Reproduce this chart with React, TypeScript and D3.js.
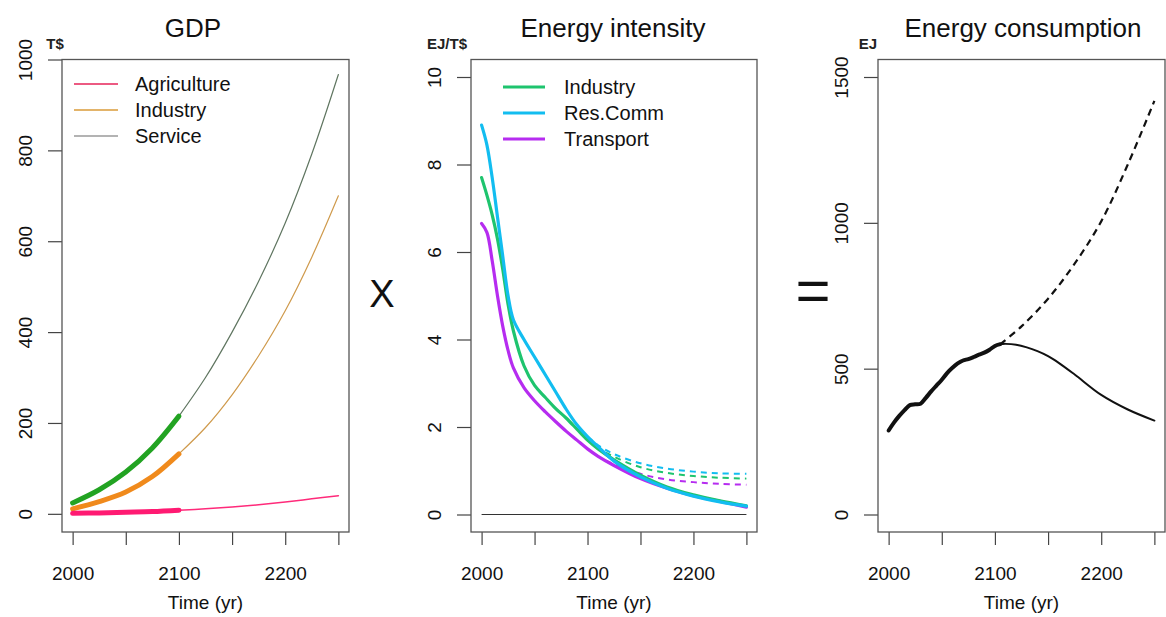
import React, { useEffect, useRef } from 'react'
import * as d3 from 'd3'

// GDP (T$)
const gdpYears = [2000, 2025, 2050, 2075, 2100, 2125, 2150, 2175, 2200, 2225, 2250]
const gdpAgriculture = [1, 2, 3.5, 5, 8, 11, 15, 20, 26, 33, 40]
const gdpIndustry = [11, 27, 48, 82, 132, 190, 262, 348, 447, 565, 700]
const gdpService = [24, 53, 92, 145, 215, 300, 400, 512, 640, 792, 967]

// Energy intensity (EJ/T$)
const eiYears = [2000, 2005, 2010, 2015, 2020, 2025, 2030, 2040, 2050, 2060, 2070, 2080, 2090, 2100, 2110, 2125, 2150, 2175, 2200, 2225, 2250]
const eiIndustry = [7.7, 7.3, 6.85, 6.3, 5.6, 4.8, 4.2, 3.4, 2.95, 2.68, 2.42, 2.2, 1.95, 1.7, 1.5, 1.25, 0.9, 0.63, 0.45, 0.31, 0.2]
const eiResComm = [8.9, 8.45, 7.7, 6.8, 5.9, 5.0, 4.45, 4.0, 3.6, 3.2, 2.8, 2.4, 2.05, 1.78, 1.55, 1.22, 0.86, 0.6, 0.42, 0.29, 0.19]
const eiTransport = [6.65, 6.45, 5.8, 5.0, 4.3, 3.75, 3.35, 2.9, 2.6, 2.35, 2.12, 1.9, 1.7, 1.5, 1.33, 1.12, 0.82, 0.6, 0.43, 0.3, 0.17]
const eiAltYears = [2100, 2110, 2125, 2150, 2175, 2200, 2225, 2250]
const eiIndustryAlt = [1.7, 1.52, 1.32, 1.08, 0.95, 0.88, 0.84, 0.82]
const eiResCommAlt = [1.78, 1.58, 1.38, 1.17, 1.05, 0.98, 0.94, 0.93]
const eiTransportAlt = [1.5, 1.33, 1.15, 0.93, 0.8, 0.74, 0.7, 0.68]

// Energy consumption (EJ)
const ecYears = [2000, 2005, 2010, 2015, 2020, 2025, 2030, 2035, 2040, 2045, 2050, 2055, 2060, 2065, 2070, 2075, 2080, 2085, 2090, 2095, 2100, 2105]
const ecHist = [288, 315, 338, 358, 375, 378, 380, 400, 422, 442, 462, 485, 503, 518, 528, 533, 540, 548, 555, 565, 578, 584]
const ecLowYears = [2105, 2110, 2120, 2130, 2140, 2150, 2160, 2175, 2200, 2225, 2250]
const ecLow = [584, 585, 582, 573, 560, 543, 520, 480, 410, 360, 322]
const ecHighYears = [2105, 2125, 2150, 2175, 2200, 2225, 2250]
const ecHigh = [584, 645, 740, 860, 1005, 1200, 1418]

const xTicks = [2000, 2050, 2100, 2150, 2200, 2250]
const FONT = 'Liberation Sans, Arial, Helvetica, sans-serif'

type Pt = [number, number]
const zip = (xs: number[], ys: number[]): Pt[] => xs.map((v, i) => [v, ys[i]])

export default function App(): React.ReactElement {
  const ref = useRef<SVGSVGElement>(null)

  useEffect(() => {
    const svg = d3.select(ref.current)
    svg.selectAll('*').remove()
    svg.style('font-family', FONT)

    const top = 59.5
    const bottom = 532

    const panel = (
      left: number,
      right: number,
      yDomain: [number, number],
      yTicks: number[],
      title: string,
      titleX: number,
      unit: string,
      unitX: number
    ) => {
      const x = d3.scaleLinear().domain([1990, 2260]).range([left, right])
      const y = d3.scaleLinear().domain(yDomain).range([bottom, top])
      const g = svg.append('g')

      g.append('g')
        .attr('transform', `translate(0,${bottom})`)
        .call(
          d3.axisBottom(x)
            .tickValues(xTicks)
            .tickSize(13)
            .tickPadding(22)
            .tickFormat((d) => (+d % 100 === 0 ? String(d) : ''))
        )
        .call((a) => a.select('.domain').remove())
        .call((a) => a.selectAll('line').attr('stroke', '#444').attr('stroke-width', 1.2))
        .call((a) =>
          a.selectAll('text').attr('font-size', 19).attr('font-family', FONT).attr('fill', '#111')
        )

      g.append('g')
        .attr('transform', `translate(${left},0)`)
        .call(d3.axisLeft(y).tickValues(yTicks).tickSize(14).tickFormat(d3.format('d')))
        .call((a) => a.select('.domain').remove())
        .call((a) => a.selectAll('line').attr('stroke', '#444').attr('stroke-width', 1.2))
        .call((a) =>
          a
            .selectAll('text')
            .attr('x', null)
            .attr('dy', null)
            .attr('text-anchor', 'middle')
            .attr('transform', 'translate(-30,0) rotate(-90)')
            .attr('font-size', 19)
            .attr('font-family', FONT)
            .attr('fill', '#111')
        )

      g.append('rect')
        .attr('x', left)
        .attr('y', top)
        .attr('width', right - left)
        .attr('height', bottom - top)
        .attr('fill', 'none')
        .attr('stroke', '#555')
        .attr('stroke-width', 1.3)

      g.append('text')
        .attr('x', titleX)
        .attr('y', 37)
        .attr('text-anchor', 'middle')
        .attr('font-size', 26)
        .attr('fill', '#111')
        .text(title)

      g.append('text')
        .attr('x', unitX)
        .attr('y', 49)
        .attr('text-anchor', 'middle')
        .attr('font-size', 15)
        .attr('font-weight', 'bold')
        .attr('fill', '#222')
        .text(unit)

      g.append('text')
        .attr('x', (left + right) / 2)
        .attr('y', 609)
        .attr('text-anchor', 'middle')
        .attr('font-size', 19)
        .attr('fill', '#111')
        .text('Time (yr)')

      return { x, y, g }
    }

    const drawLine = (
      g: d3.Selection<SVGGElement, unknown, null, undefined>,
      x: d3.ScaleLinear<number, number>,
      y: d3.ScaleLinear<number, number>,
      pts: Pt[],
      color: string,
      width: number,
      dash?: string
    ) => {
      const line = d3
        .line<Pt>()
        .x((d) => x(d[0]))
        .y((d) => y(d[1]))
        .curve(d3.curveCatmullRom.alpha(0.5))
      g.append('path')
        .datum(pts)
        .attr('d', line)
        .attr('fill', 'none')
        .attr('stroke', color)
        .attr('stroke-width', width)
        .attr('stroke-linecap', dash ? 'butt' : 'round')
        .attr('stroke-dasharray', dash ?? null)
    }

    const legend = (
      g: d3.Selection<SVGGElement, unknown, null, undefined>,
      items: { label: string; color: string; width: number }[],
      x0: number,
      x1: number,
      tx: number,
      y0: number
    ) => {
      items.forEach((it, i) => {
        const yy = y0 + i * 26
        g.append('line')
          .attr('x1', x0)
          .attr('x2', x1)
          .attr('y1', yy)
          .attr('y2', yy)
          .attr('stroke', it.color)
          .attr('stroke-width', it.width)
        g.append('text')
          .attr('x', tx)
          .attr('y', yy + 7)
          .attr('font-size', 20)
          .attr('fill', '#111')
          .text(it.label)
      })
    }

    // GDP panel
    const p1 = panel(62, 349, [-40, 1000], [0, 200, 400, 600, 800, 1000], 'GDP', 193, 'T$', 55)
    const split = (xs: number[], ys: number[], a: number, b: number): Pt[] =>
      zip(xs, ys).filter((d) => d[0] >= a && d[0] <= b)
    drawLine(p1.g, p1.x, p1.y, split(gdpYears, gdpService, 2100, 2250), '#5f7560', 1.2)
    drawLine(p1.g, p1.x, p1.y, split(gdpYears, gdpIndustry, 2100, 2250), '#cf9a4c', 1.2)
    drawLine(p1.g, p1.x, p1.y, split(gdpYears, gdpAgriculture, 2100, 2250), '#ff2a7a', 1.5)
    drawLine(p1.g, p1.x, p1.y, split(gdpYears, gdpService, 2000, 2100), '#22a322', 5)
    drawLine(p1.g, p1.x, p1.y, split(gdpYears, gdpIndustry, 2000, 2100), '#f08a1c', 5)
    drawLine(p1.g, p1.x, p1.y, split(gdpYears, gdpAgriculture, 2000, 2100), '#ff1a72', 5)
    legend(
      p1.g,
      [
        { label: 'Agriculture', color: '#ec5a82', width: 2 },
        { label: 'Industry', color: '#e3b46a', width: 2 },
        { label: 'Service', color: '#9a9a9a', width: 1.5 },
      ],
      74,
      118,
      135,
      84
    )

    // Energy intensity panel
    const p2 = panel(471, 757, [-0.4, 10.4], [0, 2, 4, 6, 8, 10], 'Energy intensity', 613, 'EJ/T$', 447)
    p2.g
      .append('line')
      .attr('x1', p2.x(2000))
      .attr('x2', p2.x(2250))
      .attr('y1', p2.y(0))
      .attr('y2', p2.y(0))
      .attr('stroke', '#333')
      .attr('stroke-width', 1.2)
    const cInd = '#1ec46e'
    const cRes = '#12bdf0'
    const cTra = '#b62cf0'
    drawLine(p2.g, p2.x, p2.y, zip(eiAltYears, eiResCommAlt), cRes, 2, '6,5')
    drawLine(p2.g, p2.x, p2.y, zip(eiAltYears, eiIndustryAlt), cInd, 2, '6,5')
    drawLine(p2.g, p2.x, p2.y, zip(eiAltYears, eiTransportAlt), cTra, 2, '6,5')
    drawLine(p2.g, p2.x, p2.y, zip(eiYears, eiTransport), cTra, 3.2)
    drawLine(p2.g, p2.x, p2.y, zip(eiYears, eiIndustry), cInd, 3.2)
    drawLine(p2.g, p2.x, p2.y, zip(eiYears, eiResComm), cRes, 3.2)
    legend(
      p2.g,
      [
        { label: 'Industry', color: cInd, width: 3 },
        { label: 'Res.Comm', color: cRes, width: 3 },
        { label: 'Transport', color: cTra, width: 3 },
      ],
      503,
      545,
      564,
      87
    )

    // Energy consumption panel
    const p3 = panel(878, 1165, [-60, 1560], [0, 500, 1000, 1500], 'Energy consumption', 1023, 'EJ', 868)
    drawLine(p3.g, p3.x, p3.y, zip(ecHighYears, ecHigh), '#111', 2.2, '7,5')
    drawLine(p3.g, p3.x, p3.y, zip(ecLowYears, ecLow), '#111', 2)
    drawLine(p3.g, p3.x, p3.y, zip(ecYears, ecHist), '#111', 4)

    // operators between panels
    svg
      .append('text')
      .attr('x', 382)
      .attr('y', 307)
      .attr('text-anchor', 'middle')
      .attr('font-size', 38)
      .attr('fill', '#111')
      .text('X')
    svg
      .append('text')
      .attr('x', 813)
      .attr('y', 311)
      .attr('text-anchor', 'middle')
      .attr('font-size', 60)
      .attr('fill', '#111')
      .text('=')
  }, [])

  return (
    <svg
      ref={ref}
      width={1166}
      height={617}
      style={{ position: 'absolute', left: 0, top: 0, background: '#fff' }}
    />
  )
}
